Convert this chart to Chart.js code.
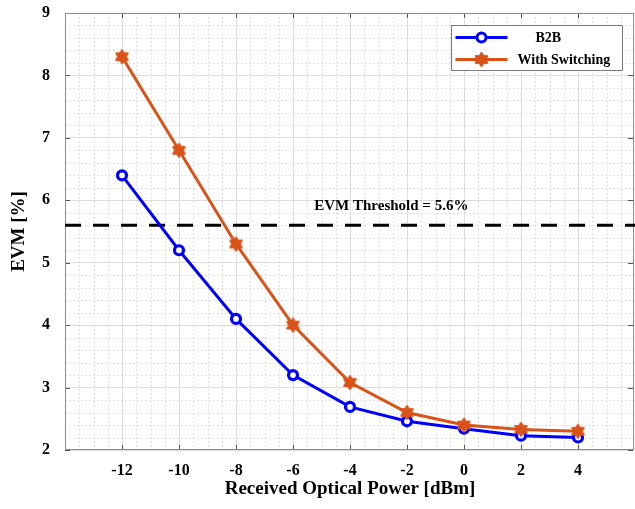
<!DOCTYPE html>
<html>
<head>
<meta charset="utf-8">
<script src="https://cdn.jsdelivr.net/npm/chart.js@4/dist/chart.umd.min.js"></script>
<style>
  html, body { margin: 0; padding: 0; background: #fff; }
  #wrap { width: 635px; height: 509px; }
</style>
</head>
<body>
<div id="wrap"><canvas id="myChart" width="635" height="509"></canvas></div>
<script>
// measured EVM vs received optical power
const power = [-12, -10, -8, -6, -4, -2, 0, 2, 4];
const evmB2B = [6.4, 5.2, 4.1, 3.2, 2.69, 2.46, 2.34, 2.23, 2.2];
const evmSwitching = [8.3, 6.8, 5.3, 4.0, 3.08, 2.6, 2.4, 2.33, 2.3];
const threshold = 5.6;
const seriesNames = ['B2B', 'With Switching'];
const thresholdText = 'EVM Threshold = 5.6%';
const xTickLabels = [-12, -10, -8, -6, -4, -2, 0, 2, 4];
const yTickLabels = [2, 3, 4, 5, 6, 7, 8, 9];

const BLUE = '#0000FF';
const ORANGE = '#D95319';
const SERIF = '"Liberation Serif", "Times New Roman", serif';

// six-pointed star marker
function hexPath(g, cx, cy, r) {
  g.beginPath();
  for (let i = 0; i < 12; i++) {
    const a = -Math.PI / 2 + i * Math.PI / 6;
    const rr = i % 2 == 0 ? r : r * 0.6;
    const px = cx + rr * Math.cos(a), py = cy + rr * Math.sin(a);
    if (i == 0) g.moveTo(px, py); else g.lineTo(px, py);
  }
  g.closePath();
}
function makeHexagram(color, r) {
  const c = document.createElement('canvas');
  const s = Math.ceil(r * 2 + 2);
  c.width = s; c.height = s;
  const g = c.getContext('2d');
  g.fillStyle = color;
  g.strokeStyle = color;
  g.lineWidth = 1;
  hexPath(g, s / 2, s / 2, r);
  g.fill();
  g.stroke();
  return c;
}
const starImg = makeHexagram(ORANGE, 7.5);

function pairs(xs, ys) {
  return xs.map((x, i) => ({x: x, y: ys[i]}));
}

// minor dotted grid, inner tick marks, frame, threshold label and legend box
const decorations = {
  id: 'decorations',
  beforeDatasetsDraw(chart) {
    const {ctx, chartArea: a, scales: {x, y}} = chart;
    ctx.save();
    ctx.strokeStyle = '#d8d8d8';
    ctx.lineWidth = 1;
    ctx.setLineDash([1.5, 2.5]);
    for (let v = x.min; v <= x.max + 1e-9; v += 0.5) {
      if (Math.abs(v % 2) < 1e-9) continue;
      const px = Math.round(x.getPixelForValue(v)) + 0.5;
      ctx.beginPath(); ctx.moveTo(px, a.top); ctx.lineTo(px, a.bottom); ctx.stroke();
    }
    for (let k = 0; k <= (y.max - y.min) * 5; k++) {
      if (k % 5 == 0) continue;
      const v = y.min + k * 0.2;
      const py = Math.round(y.getPixelForValue(v)) + 0.5;
      ctx.beginPath(); ctx.moveTo(a.left, py); ctx.lineTo(a.right, py); ctx.stroke();
    }
    ctx.setLineDash([]);
    // tick marks pointing inwards
    ctx.strokeStyle = '#555';
    const tl = 5;
    for (let v = x.min; v <= x.max + 1e-9; v += 2) {
      const px = Math.round(x.getPixelForValue(v)) + 0.5;
      ctx.beginPath();
      ctx.moveTo(px, a.bottom); ctx.lineTo(px, a.bottom - tl);
      ctx.moveTo(px, a.top); ctx.lineTo(px, a.top + tl);
      ctx.stroke();
    }
    for (let v = y.min; v <= y.max + 1e-9; v += 1) {
      const py = Math.round(y.getPixelForValue(v)) + 0.5;
      ctx.beginPath();
      ctx.moveTo(a.left, py); ctx.lineTo(a.left + tl, py);
      ctx.moveTo(a.right - 2, py); ctx.lineTo(a.right - 2 - tl, py);
      ctx.stroke();
    }
    // axes box
    ctx.strokeStyle = '#8c8c8c';
    ctx.strokeRect(Math.round(a.left) + 0.5, Math.round(a.top) + 0.5,
      Math.round(a.right - a.left) - 2, Math.round(a.bottom - a.top) - 1);
    ctx.restore();
  },
  afterDraw(chart) {
    const {ctx, chartArea: a, scales: {x, y}} = chart;
    ctx.save();
    // threshold annotation
    ctx.fillStyle = '#000';
    ctx.font = 'bold 15px ' + SERIF;
    ctx.textAlign = 'center';
    ctx.textBaseline = 'middle';
    ctx.fillText(thresholdText, x.getPixelForValue(-2.55), y.getPixelForValue(threshold) - 19);

    // legend
    const bx = a.right - 183.5, by = a.top + 12.5, bw = 171, bh = 45;
    ctx.fillStyle = '#fff';
    ctx.fillRect(bx, by, bw, bh);
    ctx.strokeStyle = '#7a7a7a';
    ctx.lineWidth = 1;
    ctx.strokeRect(bx, by, bw, bh);
    const rows = [
      {y: by + 12, color: BLUE, lw: 3, text: seriesNames[0], tx: bx + 84},
      {y: by + 34, color: ORANGE, lw: 3, text: seriesNames[1], tx: bx + 66}
    ];
    ctx.font = 'bold 14px ' + SERIF;
    ctx.textAlign = 'left';
    rows.forEach((r, i) => {
      ctx.strokeStyle = r.color;
      ctx.lineWidth = r.lw;
      ctx.beginPath();
      ctx.moveTo(bx + 4, r.y); ctx.lineTo(bx + 56, r.y);
      ctx.stroke();
      const mx = bx + 30;
      if (i == 0) {
        ctx.fillStyle = '#fff';
        ctx.lineWidth = 3;
        ctx.beginPath(); ctx.arc(mx, r.y, 4.5, 0, Math.PI * 2); ctx.fill(); ctx.stroke();
      } else {
        ctx.drawImage(starImg, mx - starImg.width / 2, r.y - starImg.height / 2);
      }
      ctx.fillStyle = '#000';
      ctx.fillText(r.text, r.tx, r.y + 1);
    });
    ctx.restore();
  }
};

const config = {
  type: 'line',
  data: {
    datasets: [{
      label: seriesNames[1],
      data: pairs(power, evmSwitching),
      borderColor: ORANGE,
      backgroundColor: ORANGE,
      borderWidth: 3,
      pointStyle: starImg,
      order: 0
    }, {
      label: seriesNames[0],
      data: pairs(power, evmB2B),
      borderColor: BLUE,
      backgroundColor: '#fff',
      borderWidth: 3,
      pointStyle: 'circle',
      pointRadius: 4.5,
      pointBorderWidth: 3.2,
      order: 1
    }, {
      label: 'threshold',
      data: [{x: -14, y: threshold}, {x: 6, y: threshold}],
      borderColor: '#000',
      borderWidth: 3,
      borderDash: [16, 12],
      pointRadius: 0,
      order: 2
    }]
  },
  options: {
    responsive: false,
    animation: false,
    devicePixelRatio: 1,
    layout: {autoPadding: false, padding: {top: 13, left: 0, right: 0, bottom: 0}},
    elements: {line: {tension: 0}},
    plugins: {legend: {display: false}, tooltip: {enabled: false}},
    scales: {
      x: {
        type: 'linear',
        min: -14,
        max: 6,
        afterFit(s) { s.height = 59; s.paddingLeft = 0; s.paddingRight = 0; },
        ticks: {
          stepSize: 2,
          autoSkip: false,
          maxRotation: 0,
          padding: 11,
          color: '#000',
          font: {family: SERIF, size: 16, weight: 'bold'},
          callback: v => xTickLabels.includes(v) ? String(v) : ''
        },
        grid: {color: '#dcdcdc', lineWidth: 1, drawTicks: false},
        border: {display: false},
        title: {
          display: true,
          text: 'Received Optical Power [dBm]',
          color: '#000',
          font: {family: SERIF, size: 19, weight: 'bold'},
          padding: {top: 0, bottom: 9}
        }
      },
      y: {
        min: 2,
        max: 9,
        afterFit(s) { s.width = 65; s.paddingTop = 0; s.paddingBottom = 0; },
        ticks: {
          stepSize: 1,
          padding: 15,
          color: '#000',
          font: {family: SERIF, size: 16, weight: 'bold'},
          callback: v => yTickLabels.includes(v) ? String(v) : ''
        },
        grid: {color: '#dcdcdc', lineWidth: 1, drawTicks: false},
        border: {display: false},
        title: {
          display: true,
          text: 'EVM [%]',
          color: '#000',
          font: {family: SERIF, size: 19, weight: 'bold'},
          padding: {top: 8, bottom: 0}
        }
      }
    }
  },
  plugins: [decorations]
};

const myChart = new Chart(document.getElementById('myChart'), config);
</script>
</body>
</html>
